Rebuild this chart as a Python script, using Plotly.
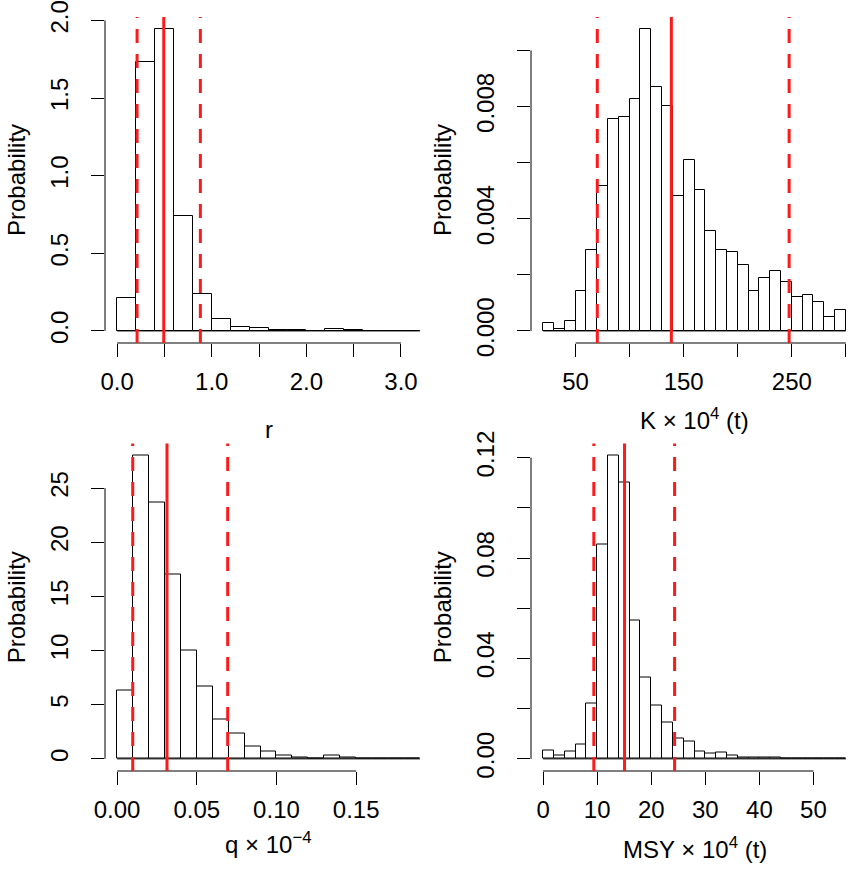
import plotly.graph_objects as go

W, H = 862, 878

# ---- panel 1: r ----
r_breaks = [0.0, 0.2, 0.4, 0.6, 0.8, 1.0, 1.2, 1.4, 1.6, 1.8, 2.0, 2.2, 2.4, 2.6, 2.8, 3.0, 3.2]
r_density = [0.212, 1.733, 1.944, 0.742, 0.235, 0.079, 0.028, 0.019, 0.008, 0.004,
             0.002, 0.012, 0.003, 0.002, 0.001, 0.001]
r_lines = [0.211, 0.493, 0.880]          # lower, median, upper
r_xticks = [0.0, 0.5, 1.0, 1.5, 2.0, 2.5, 3.0]
r_xlabels = ["0.0", "", "1.0", "", "2.0", "", "3.0"]
r_yticks = [0.0, 0.5, 1.0, 1.5, 2.0]
r_ylabels = ["0.0", "0.5", "1.0", "1.5", "2.0"]

# ---- panel 2: K ----
k_breaks = [20, 30, 40, 50, 60, 70, 80, 90, 100, 110, 120, 130, 140, 150, 160, 170, 180,
            190, 200, 210, 220, 230, 240, 250, 260, 270, 280, 290, 300]
k_density = [0.00028, 0.00008, 0.00034, 0.00142, 0.0029, 0.00515, 0.00756, 0.00763,
             0.00826, 0.01076, 0.0087, 0.00801, 0.00482, 0.00608, 0.00502, 0.00356,
             0.0029, 0.0028, 0.00236, 0.00142, 0.00189, 0.00215, 0.00176, 0.00121,
             0.00129, 0.00102, 0.0005, 0.00075]
k_lines = [70.1, 138.6, 247.5]
k_xticks = [50, 100, 150, 200, 250, 300]
k_xlabels = ["50", "", "150", "", "250", ""]
k_yticks = [0.0, 0.002, 0.004, 0.006, 0.008, 0.010]
k_ylabels = ["0.000", "", "0.004", "", "0.008", ""]

# ---- panel 3: q ----
q_breaks = [0.00, 0.01, 0.02, 0.03, 0.04, 0.05, 0.06, 0.07, 0.08, 0.09, 0.10, 0.11, 0.12,
            0.13, 0.14, 0.15, 0.16, 0.17, 0.18, 0.19]
q_density = [6.31, 28.0, 23.7, 16.98, 9.97, 6.68, 3.6, 2.31, 1.17, 0.68, 0.34, 0.15, 0.06,
             0.31, 0.09, 0.03, 0.02, 0.05, 0.05]
q_lines = [0.0098, 0.0313, 0.0694]
q_xticks = [0.00, 0.05, 0.10, 0.15]
q_xlabels = ["0.00", "0.05", "0.10", "0.15"]
q_yticks = [0, 5, 10, 15, 20, 25]
q_ylabels = ["0", "5", "10", "15", "20", "25"]

# ---- panel 4: MSY ----
m_breaks = [0, 2, 4, 6, 8, 10, 12, 14, 16, 18, 20, 22, 24, 26, 28, 30, 32, 34, 36, 38, 40,
            42, 44, 46, 48, 50, 52, 54, 56]
m_density = [0.00345, 0.00146, 0.00279, 0.00557, 0.02216, 0.0853, 0.1208, 0.110, 0.0553,
             0.0324, 0.0214, 0.01447, 0.00823, 0.00677, 0.00279, 0.00212, 0.00239, 0.00119,
             0.0005, 0.0007, 0.0004, 0.0005, 0.0003, 0.0002, 0.0, 0.0, 0.0001, 0.0001]
m_lines = [9.38, 15.06, 24.32]
m_xticks = [0, 10, 20, 30, 40, 50]
m_xlabels = ["0", "10", "20", "30", "40", "50"]
m_yticks = [0.00, 0.02, 0.04, 0.06, 0.08, 0.10, 0.12]
m_ylabels = ["0.00", "", "0.04", "", "0.08", "", "0.12"]

x_titles = ["r", "K \u00d7 10<sup>4</sup> (t)", "q \u00d7 10<sup>\u22124</sup>",
            "MSY \u00d7 10<sup>4</sup> (t)"]

# px / py: plot region in pixels, tdy: title offset below the region
panels = [
    dict(br=r_breaks, d=r_density, lines=r_lines, xt=r_xticks, xl=r_xlabels, yt=r_yticks, yl=r_ylabels,
         px=(105, 432), py=(17, 343), tdy=86),
    dict(br=k_breaks, d=k_density, lines=k_lines, xt=k_xticks, xl=k_xlabels, yt=k_yticks, yl=k_ylabels,
         px=(531, 858), py=(17, 343), tdy=76),
    dict(br=q_breaks, d=q_density, lines=q_lines, xt=q_xticks, xl=q_xlabels, yt=q_yticks, yl=q_ylabels,
         px=(105, 432), py=(443.5, 771), tdy=72),
    dict(br=m_breaks, d=m_density, lines=m_lines, xt=m_xticks, xl=m_xlabels, yt=m_yticks, yl=m_ylabels,
         px=(531, 858), py=(443.5, 771), tdy=77),
]

FONT = "Liberation Sans, Arial, sans-serif"
fig = go.Figure()
shapes = []
annotations = []


def split_ticks(vals, labels):
    # labelled ticks become major ticks, unlabelled ones minor ticks of the same length
    major = [(v, t) for v, t in zip(vals, labels) if t]
    minor = [v for v, t in zip(vals, labels) if not t]
    return [v for v, _ in major], [t for _, t in major], minor


for i, p in enumerate(panels, start=1):
    sfx = "" if i == 1 else str(i)
    br, d = p["br"], p["d"]
    centers = [(a + b) / 2 for a, b in zip(br[:-1], br[1:])]
    widths = [b - a for a, b in zip(br[:-1], br[1:])]
    fig.add_trace(go.Bar(
        x=centers, y=d, width=widths,
        marker=dict(color="white", line=dict(color="black", width=1)),
        xaxis="x" + sfx, yaxis="y" + sfx, showlegend=False, hoverinfo="skip"))

    # R-style 4% padding around data range
    xspan = br[-1] - br[0]
    ymax = max(d)
    xr = [br[0] - 0.04 * xspan, br[-1] + 0.04 * xspan]
    yr = [-0.04 * ymax, 1.04 * ymax]

    xd = [p["px"][0] / W, p["px"][1] / W]
    yd = [1 - p["py"][1] / H, 1 - p["py"][0] / H]

    xv, xt, xm = split_ticks(p["xt"], p["xl"])
    yv, yt, ym = split_ticks(p["yt"], p["yl"])

    common = dict(showgrid=False, zeroline=False, showline=False, ticks="outside",
                  ticklen=13, tickwidth=1, tickcolor="black", automargin=False,
                  tickfont=dict(family=FONT, size=24, color="black"), tickmode="array")

    def minor(vals):
        if not vals:
            return dict(ticks="")
        return dict(tickmode="array", tickvals=vals, ticks="outside", ticklen=13,
                    tickwidth=1, tickcolor="black", showgrid=False)

    fig.update_layout(**{
        "xaxis" + sfx: dict(domain=xd, range=xr, anchor="y" + sfx, tickvals=xv, ticktext=xt,
                            minor=minor(xm), ticklabelstandoff=4, **common),
        "yaxis" + sfx: dict(domain=yd, range=yr, anchor="x" + sfx, tickvals=yv, ticktext=yt,
                            minor=minor(ym), tickangle=-90, ticklabelstandoff=13, **common),
    })

    xref, yref = "x" + sfx, "y" + sfx
    # axis lines spanning first to last tick
    shapes.append(dict(type="line", xref=xref, yref=yref + " domain", x0=p["xt"][0], x1=p["xt"][-1],
                       y0=0, y1=0, line=dict(color="black", width=1)))
    shapes.append(dict(type="line", xref=xref + " domain", yref=yref, x0=0, x1=0,
                       y0=p["yt"][0], y1=p["yt"][-1], line=dict(color="black", width=1)))
    # histogram baseline
    shapes.append(dict(type="line", xref=xref, yref=yref, x0=br[0], x1=br[-1], y0=0, y1=0,
                       line=dict(color="black", width=1)))
    # credible interval and median
    for j, v in enumerate(p["lines"]):
        shapes.append(dict(type="line", xref=xref, yref=yref + " domain", x0=v, x1=v, y0=0, y1=1,
                           line=dict(color="#ff1a1a", width=3, dash="solid" if j == 1 else "14px,11px")))

    cx = (p["px"][0] + p["px"][1]) / 2
    cy = (p["py"][0] + p["py"][1]) / 2
    annotations.append(dict(text="Probability", textangle=-90, xref="paper", yref="paper",
                            x=(p["px"][0] - 89) / W, y=1 - cy / H, showarrow=False,
                            xanchor="center", yanchor="middle",
                            font=dict(family=FONT, size=24, color="black")))
    title_y = p["py"][1] + p["tdy"]
    annotations.append(dict(text=x_titles[i - 1], xref="paper", yref="paper",
                            x=cx / W, y=1 - title_y / H, showarrow=False,
                            xanchor="center", yanchor="middle",
                            font=dict(family=FONT, size=24, color="black")))

fig.update_layout(width=W, height=H, margin=dict(l=0, r=0, t=0, b=0),
                  paper_bgcolor="white", plot_bgcolor="white", bargap=0,
                  shapes=shapes, annotations=annotations)

fig.write_html("out.html", config={"displayModeBar": False},
               post_script="document.body.style.margin='0';")
